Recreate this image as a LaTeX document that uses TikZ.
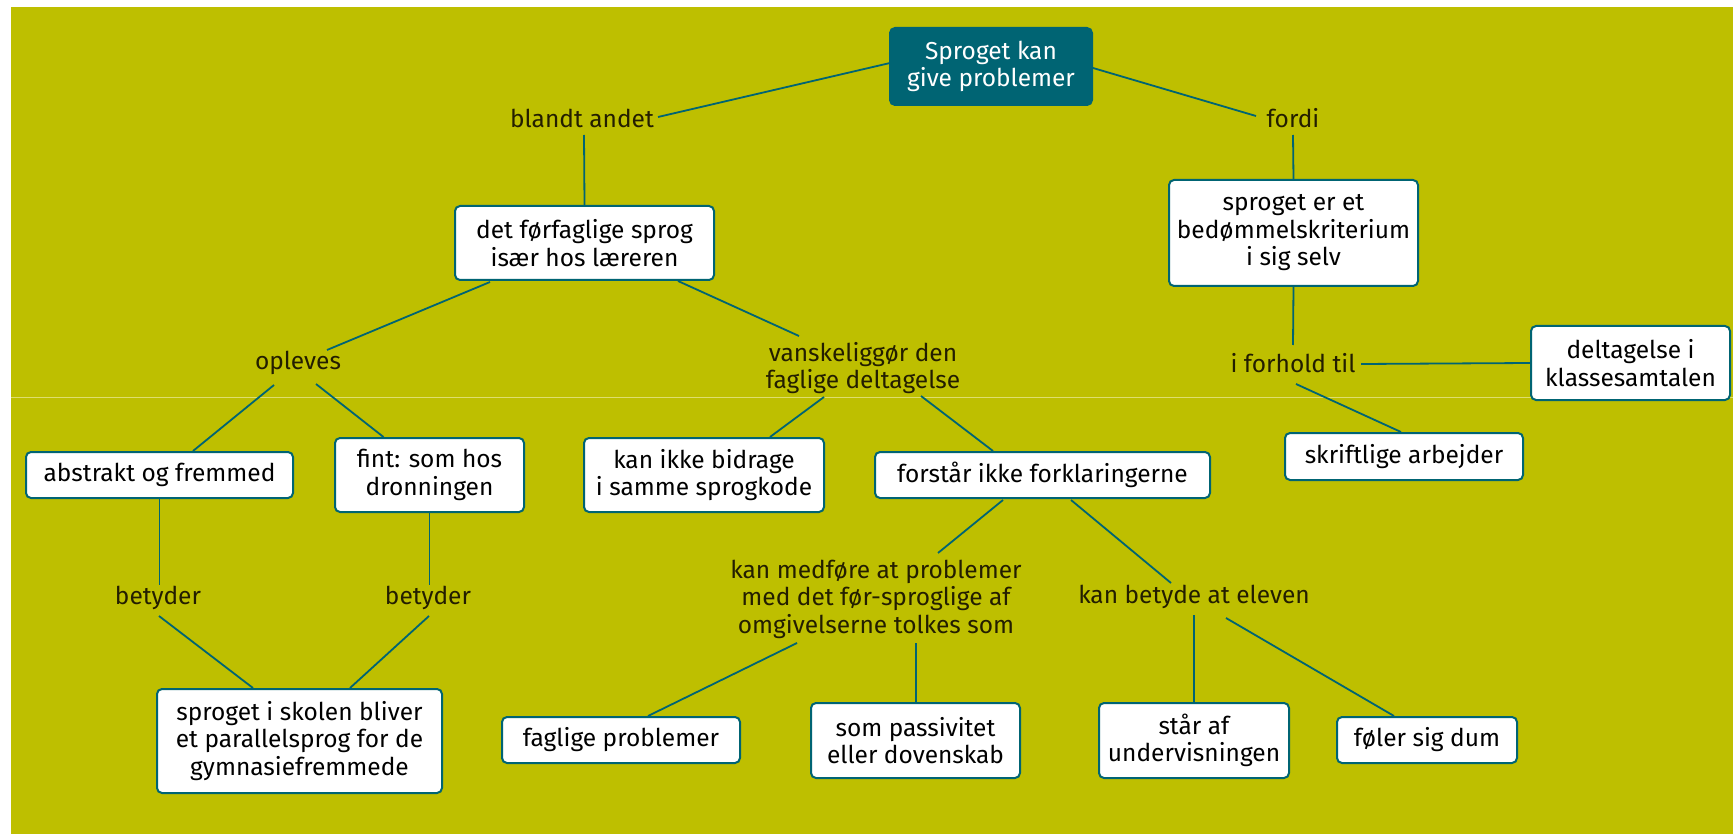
\documentclass[tikz,border=0pt]{standalone}
\usepackage{fontspec}
\setmainfont{Fira Sans}
\usetikzlibrary{calc}
\definecolor{olive}{RGB}{190,191,0}
\definecolor{teal}{RGB}{0,100,115}
\definecolor{seam}{RGB}{222,222,110}
\definecolor{labtext}{RGB}{35,30,0}
\tikzset{
  box/.style={draw=teal, line width=2pt, fill=white, rounded corners=5pt, align=center, inner sep=0pt, font=\fontsize{24.5}{27.5}\selectfont, text=black},
  rootbox/.style={box, fill=teal, draw=teal, text=white},
  lab/.style={align=center, inner sep=0pt, font=\fontsize{24.5}{27.5}\selectfont, text=labtext},
  conn/.style={draw=teal, line width=1.8pt}
}
\begin{document}
\begin{tikzpicture}[x=1pt,y=-1pt]
\useasboundingbox (0,0) rectangle (1733,834);
\fill[white] (0,0) rectangle (1733,834);
\fill[olive] (11,7) rectangle (1733,834);
\draw[seam, line width=0.8pt] (11,397) -- (1733,397);

% boxes
\node[rootbox, minimum width=202pt, minimum height=77pt] (root) at (991,66.5) {Sproget kan\\give problemer};
\node[box, minimum width=259pt, minimum height=74pt] (det) at (584.5,243) {det førfaglige sprog\\især hos læreren};
\node[box, minimum width=249pt, minimum height=106pt] (krit) at (1293.5,233) {sproget er et\\bedømmelskriterium\\i sig selv};
\node[box, minimum width=199pt, minimum height=74pt] (deltag) at (1630.5,363) {deltagelse i\\klassesamtalen};
\node[box, minimum width=238pt, minimum height=47pt] (skrift) at (1404,456.5) {skriftlige arbejder};
\node[box, minimum width=267pt, minimum height=46pt] (abstr) at (159.5,475) {abstrakt og fremmed};
\node[box, minimum width=189pt, minimum height=74pt] (fint) at (429.5,475) {fint: som hos\\dronningen};
\node[box, minimum width=240pt, minimum height=74pt] (kanikke) at (704,475) {kan ikke bidrage\\i samme sprogkode};
\node[box, minimum width=335pt, minimum height=46pt] (forstar) at (1042.5,475) {forstår ikke forklaringerne};
\node[box, minimum width=285pt, minimum height=104pt] (skolen) at (299.5,741) {sproget i skolen bliver\\et parallelsprog for de\\gymnasiefremmede};
\node[box, minimum width=238pt, minimum height=46pt] (faglige) at (621,740) {faglige problemer};
\node[box, minimum width=209pt, minimum height=75pt] (passiv) at (915.5,740.5) {som passivitet\\eller dovenskab};
\node[box, minimum width=190pt, minimum height=75pt] (staraf) at (1194,740.5) {står af\\undervisningen};
\node[box, minimum width=180pt, minimum height=46pt] (foler) at (1427,740) {føler sig dum};

% linking labels
\node[lab] (blandt) at (582,118) {blandt andet};
\node[lab] (fordi) at (1293,118) {fordi};
\node[lab] (iforhold) at (1293,363) {i forhold til};
\node[lab] (opleves) at (298,363) {opleves};
\node[lab] (vansk) at (863,368) {vanskeliggør den\\faglige deltagelse};
\node[lab] (bet1) at (158,598) {betyder};
\node[lab] (bet2) at (428,598) {betyder};
\node[lab] (medfore) at (876,599) {kan medføre at problemer\\med det før-sproglige af\\omgivelserne tolkes som};
\node[lab] (kanbet) at (1194,597) {kan betyde at eleven};

% connectors
\draw[conn] ($(root)+(-101,-3.5)$) -- ($(blandt)+(76,-1)$);
\draw[conn] ($(root)+(102,1.5)$) -- ($(fordi)+(-37,-2)$);
\draw[conn] ($(blandt)+(2,17)$) -- (det.north);
\draw[conn] ($(fordi)+(0,17)$) -- (krit.north);
\draw[conn] (krit.south) -- ($(iforhold)+(0,-18)$);
\draw[conn] ($(iforhold)+(68,1)$) -- (deltag.west);
\draw[conn] ($(iforhold)+(3,21)$) -- ($(skrift.north)+(-3,0)$);
\draw[conn] ($(det.south)+(-94.5,1)$) -- ($(opleves)+(29,-13)$);
\draw[conn] ($(det.south)+(93.5,0)$) -- ($(vansk)+(-64,-32)$);
\draw[conn] ($(opleves)+(-24,22)$) -- ($(abstr.north)+(33.5,0)$);
\draw[conn] ($(opleves)+(18,21)$) -- ($(fint.north)+(-46,0)$);
\draw[conn] (abstr.south) -- ($(bet1)+(1.5,-13)$);
\draw[conn] (fint.south) -- ($(bet2)+(1.5,-13)$);
\draw[conn] ($(bet1)+(1,18)$) -- ($(skolen.north)+(-46.5,0)$);
\draw[conn] ($(bet2)+(1,18)$) -- ($(skolen.north)+(50.5,0)$);
\draw[conn] ($(vansk)+(-39,29)$) -- ($(kanikke.north)+(66,0)$);
\draw[conn] ($(vansk)+(58,28)$) -- ($(forstar.north)+(-49.5,0)$);
\draw[conn] ($(forstar.south)+(-39.5,1)$) -- ($(medfore)+(62,-46)$);
\draw[conn] ($(forstar.south)+(28.5,1)$) -- ($(kanbet)+(-23,-14)$);
\draw[conn] ($(medfore)+(-79,44)$) -- ($(faglige.north)+(27,0)$);
\draw[conn] ($(medfore)+(40,44)$) -- ($(passiv.north)+(0.5,0)$);
\draw[conn] ($(kanbet)+(0,18)$) -- (staraf.north);
\draw[conn] ($(kanbet)+(32,21)$) -- ($(foler.north)+(-33,0)$);
\end{tikzpicture}
\end{document}
